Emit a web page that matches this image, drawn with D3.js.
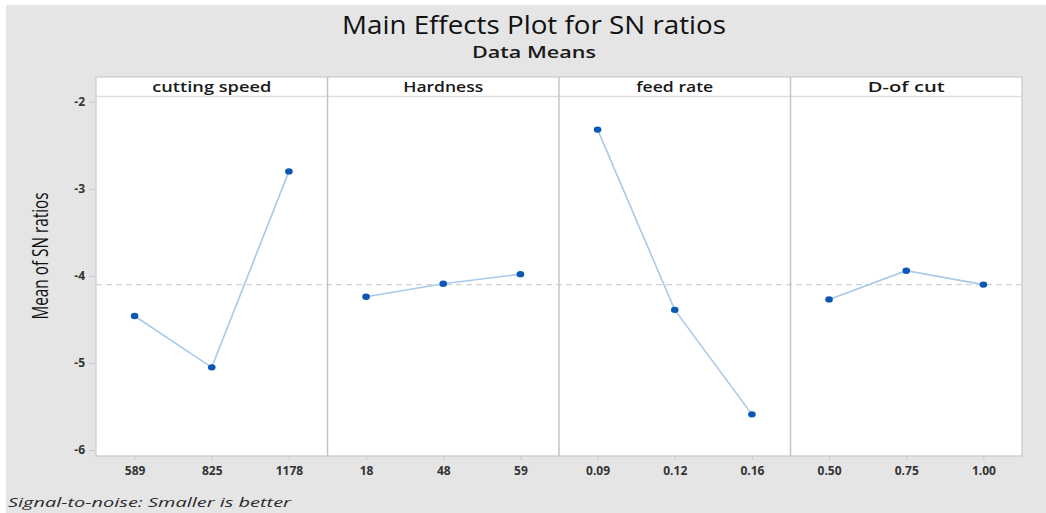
<!DOCTYPE html>
<html>
<head>
<meta charset="utf-8">
<script src="https://cdn.jsdelivr.net/npm/d3@7"></script>
<style>
  html, body { margin: 0; padding: 0; background: #ffffff; }
  svg { display: block; }
  text { font-family: "Open Sans", "Noto Sans", sans-serif; }
</style>
</head>
<body>
<svg id="chart" width="1046" height="513"></svg>
<script>
// ---- data ----
const factors = ["cutting speed", "Hardness", "feed rate", "D-of cut"];
const levelsCuttingSpeed = ["589", "825", "1178"];
const levelsHardness = ["18", "48", "59"];
const levelsFeedRate = ["0.09", "0.12", "0.16"];
const levelsDepth = ["0.50", "0.75", "1.00"];
const snCuttingSpeed = [-4.46, -5.05, -2.80];
const snHardness = [-4.24, -4.09, -3.98];
const snFeedRate = [-2.32, -4.39, -5.59];
const snDepth = [-4.27, -3.94, -4.10];
const yTicks = [-2, -3, -4, -5, -6];
const grandMean = -4.10;

const levels = [levelsCuttingSpeed, levelsHardness, levelsFeedRate, levelsDepth];
const values = [snCuttingSpeed, snHardness, snFeedRate, snDepth];

// ---- layout ----
const W = 1046, H = 513;
const plotL = 96, plotR = 1022, headTop = 77, headBot = 96.5, plotB = 456;

const svg = d3.select("#chart");

// background
svg.append("rect").attr("x", 6).attr("y", 5).attr("width", W - 6).attr("height", H - 5)
  .attr("fill", "#e5e5e5");

function fit(sel, w) {
  sel.attr("textLength", w).attr("lengthAdjust", "spacingAndGlyphs");
  return sel;
}

// titles
fit(svg.append("text").attr("x", 534).attr("y", 34).attr("text-anchor", "middle")
  .attr("font-size", 25).attr("fill", "#111").text("Main Effects Plot for SN ratios"), 384);
fit(svg.append("text").attr("x", 534).attr("y", 58).attr("text-anchor", "middle")
  .attr("font-size", 17).attr("font-weight", 600).attr("fill", "#1a1a1a").text("Data Means"), 124);

// scales
const y = d3.scaleLinear().domain([-6.068, -1.94]).range([plotB, headBot]);
const panelX = d3.scaleBand().domain(factors).range([plotL, plotR]).paddingInner(0).paddingOuter(0);

// plot area
svg.append("rect").attr("x", plotL).attr("y", headTop).attr("width", plotR - plotL)
  .attr("height", plotB - headTop).attr("fill", "#ffffff")
  .attr("stroke", "#c9c9c9").attr("stroke-width", 1.2);
svg.append("line").attr("x1", plotL).attr("x2", plotR).attr("y1", headBot).attr("y2", headBot)
  .attr("stroke", "#dedede").attr("stroke-width", 1.5);

// grand mean dashed line
svg.append("line").attr("x1", plotL).attr("x2", plotR)
  .attr("y1", y(grandMean)).attr("y2", y(grandMean))
  .attr("stroke", "#d2d2d2").attr("stroke-width", 1.4).attr("stroke-dasharray", "6,4");

// y axis
const yAxis = d3.axisLeft(y).tickValues(yTicks).tickSize(6).tickPadding(4).tickFormat(d3.format("d"));
const gy = svg.append("g").attr("transform", `translate(${plotL - 1},0)`).call(yAxis);
gy.select(".domain").remove();
gy.selectAll(".tick line").attr("stroke", "#c8c8c8");
gy.selectAll(".tick text").attr("fill", "#333").attr("font-size", 12).attr("font-weight", 700)
  .text(d => "-" + Math.abs(d));

fit(svg.append("text").attr("transform", `translate(48,256) rotate(-90)`)
  .attr("text-anchor", "middle").attr("font-size", 21).attr("fill", "#111")
  .text("Mean of SN ratios"), 127);

// panels
factors.forEach((f, i) => {
  const x0 = panelX(f), bw = panelX.bandwidth();
  const x = d3.scalePoint().domain(levels[i]).range([x0, x0 + bw]).padding(0.5);

  if (i > 0) {
    svg.append("line").attr("x1", x0).attr("x2", x0).attr("y1", headTop).attr("y2", plotB)
      .attr("stroke", "#c4c4c4").attr("stroke-width", 1.5);
  }
  fit(svg.append("text").attr("x", x0 + bw / 2).attr("y", 91.5).attr("text-anchor", "middle")
    .attr("font-size", 15).attr("font-weight", 600).attr("fill", "#1a1a1a").text(f),
    [119, 80, 77, 77][i]);

  const gx = svg.append("g").attr("transform", `translate(0,${plotB})`)
    .call(d3.axisBottom(x).tickSize(4).tickPadding(6));
  gx.select(".domain").remove();
  gx.selectAll(".tick line").attr("stroke", "#c8c8c8");
  gx.selectAll(".tick text").attr("fill", "#333").attr("font-size", 12).attr("font-weight", 700);

  const pts = levels[i].map((l, j) => ({ l, v: values[i][j] }));
  svg.append("path").datum(pts)
    .attr("d", d3.line().x(d => x(d.l)).y(d => y(d.v)))
    .attr("fill", "none").attr("stroke", "#a9c9ea").attr("stroke-width", 1.6);
  svg.selectAll(null).data(pts).enter().append("ellipse")
    .attr("cx", d => x(d.l)).attr("cy", d => y(d.v)).attr("rx", 3.8).attr("ry", 3.2)
    .attr("fill", "#0a58b4");
});

// footnote
fit(svg.append("text").attr("x", 8).attr("y", 507).attr("font-size", 13)
  .attr("font-style", "italic").attr("fill", "#2a2a2a")
  .text("Signal-to-noise: Smaller is better"), 283);
</script>
</body>
</html>
